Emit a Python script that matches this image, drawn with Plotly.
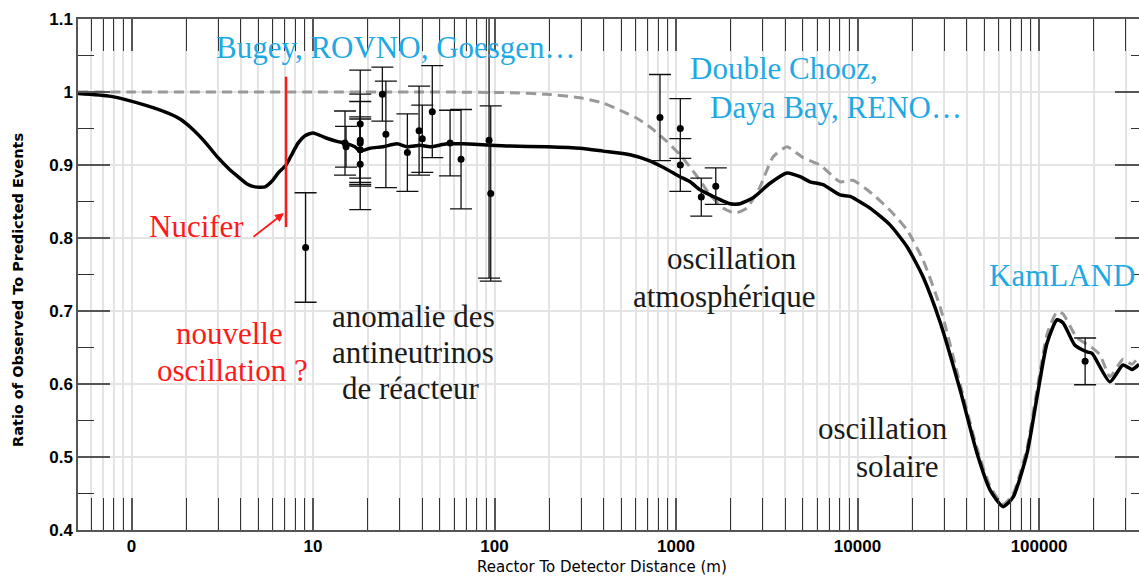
import math
import plotly.graph_objects as go

# ---------------- data ----------------
# 3 active + 1 sterile neutrino prediction (solid black)
sterile_dist = [0.507, 0.771, 1.187, 1.589, 1.850, 2.127, 2.508, 2.997, 3.401, 3.862, 4.329, 4.79,
                5.44, 5.945, 6.42, 7.10, 7.661, 8.27, 9.035, 10.0, 11.8, 13.7, 15.0, 17.0, 18.2,
                20.6, 24.3, 29.0, 33.0, 38.9, 44.2, 54.7, 67.0, 121.6, 194.5, 296, 396, 558,
                692, 848, 1052, 1195, 1356, 1539, 1984, 2253, 2656, 3295, 4090, 4823, 5475,
                6455, 8010, 9095, 11720, 15100, 18750, 22950, 28500, 36750, 45550, 53700,
                63400, 71950, 85900, 97500, 110700, 125700, 135600, 157800, 183700, 196000,
                245900, 290200, 325300, 355600]
sterile_ratio = [0.998, 0.994, 0.982, 0.971, 0.963, 0.951, 0.933, 0.910, 0.896, 0.884, 0.874, 0.870,
                 0.870, 0.878, 0.889, 0.900, 0.915, 0.930, 0.940, 0.944, 0.937, 0.932, 0.930, 0.925, 0.919,
                 0.923, 0.925, 0.929, 0.925, 0.927, 0.925, 0.929, 0.929, 0.926, 0.925, 0.923, 0.919, 0.914,
                 0.907, 0.897, 0.884, 0.877, 0.866, 0.859, 0.847, 0.847, 0.855, 0.875, 0.889, 0.884, 0.877,
                 0.873, 0.859, 0.857, 0.841, 0.818, 0.788, 0.747, 0.685, 0.592, 0.505, 0.455,
                 0.432, 0.445, 0.505, 0.582, 0.656, 0.688, 0.684, 0.653, 0.644, 0.642,
                 0.603, 0.626, 0.620, 0.627]

# standard 3-flavour prediction (grey dashed)
std_dist = [0.507, 1.0, 10.0, 50.0, 121.6, 194.5, 296, 396, 491, 609, 719, 892, 1052, 1195, 1356,
            1539, 1814, 2114, 2461, 2902, 3422, 4090, 5012, 6214, 8010, 9440, 11720, 15100,
            18750, 22950, 28500, 36750, 45550, 53700, 63400, 71950, 85900, 97500, 110700,
            125700, 135600, 161900, 191000, 216700, 245900, 290200, 325300, 355600]
std_ratio = [1.0, 1.0, 1.0, 1.0, 0.999, 0.997, 0.992, 0.985, 0.975, 0.964, 0.952, 0.932, 0.914, 0.897, 0.879,
             0.859, 0.841, 0.834, 0.841, 0.870, 0.911, 0.925, 0.910, 0.900, 0.877, 0.879, 0.863, 0.838,
             0.811, 0.770, 0.706, 0.600, 0.512, 0.460, 0.435, 0.449, 0.512, 0.592, 0.668,
             0.699, 0.696, 0.663, 0.652, 0.640, 0.610, 0.634, 0.627, 0.638]

# reactor experiments: distance (m), observed/predicted, error
exp_dist = [9.1, 15.0, 15.2, 18.2, 18.2, 18.2, 18.2, 18.2, 24.1, 25.2, 33.1, 38.4, 40.0,
            45.4, 56.9, 65.4, 93.3, 95.3, 816, 1056, 1056, 1378, 1656, 179500]
exp_ratio = [0.787, 0.930, 0.925, 0.956, 0.934, 0.930, 0.921, 0.901, 0.997, 0.942, 0.917, 0.947, 0.936,
             0.973, 0.930, 0.908, 0.934, 0.861, 0.965, 0.950, 0.900, 0.856, 0.871, 0.631]
exp_err = [0.075, 0.044, 0.028, 0.074, 0.063, 0.057, 0.045, 0.062, 0.037, 0.073, 0.053, 0.061, 0.046,
           0.063, 0.045, 0.068, 0.189, 0.120, 0.059, 0.041, 0.036, 0.026, 0.025, 0.032]

# Nucifer position
nucifer_dist = [7.1, 7.1]
nucifer_span = [0.815, 1.021]

# axes
x_range = [0.507, 355600]
y_range = [0.4, 1.1]
x_major = [1, 10, 100, 1000, 10000, 100000]
x_major_text = ["0", "10", "100", "1000", "10000", "100000"]
y_major = [0.4, 0.5, 0.6, 0.7, 0.8, 0.9, 1.0, 1.1]
y_major_text = ["0.4", "0.5", "0.6", "0.7", "0.8", "0.9", "1", "1.1"]
x_minor = [m * 10 ** e for e in range(-1, 6) for m in range(2, 10) if 0.5 < m * 10 ** e < 4e5]

# ---------------- figure ----------------
W, H = 1139, 576
PL, PR, PT, PB = 78, 0, 19, 46


def pxx(px):
    return (px - PL) / (W - PL - PR)


def pxy(py):
    return (H - PB - py) / (H - PT - PB)


fig = go.Figure()
fig.add_trace(go.Scatter(x=std_dist, y=std_ratio, mode="lines",
                         line=dict(color="#999999", width=3, dash="10px,6px", shape="spline", smoothing=0.5),
                         hoverinfo="skip", showlegend=False))
fig.add_trace(go.Scatter(x=sterile_dist, y=sterile_ratio, mode="lines",
                         line=dict(color="black", width=3.5, shape="spline", smoothing=0.6),
                         hoverinfo="skip", showlegend=False))
fig.add_trace(go.Scatter(x=exp_dist, y=exp_ratio, mode="markers",
                         marker=dict(color="black", size=7),
                         error_y=dict(type="data", array=exp_err, color="#111111", thickness=1.3, width=11),
                         showlegend=False))
fig.add_trace(go.Scatter(x=nucifer_dist, y=nucifer_span, mode="lines",
                         line=dict(color="#ff1a1a", width=2.5), hoverinfo="skip", showlegend=False))
# carrier for the right-hand tick axis
fig.add_trace(go.Scatter(x=[None], y=[None], yaxis="y2", mode="markers", showlegend=False, hoverinfo="skip"))

tickfont = dict(family="Liberation Sans", size=17, color="black", weight="bold")
fig.update_layout(
    width=W, height=H,
    margin=dict(l=PL, r=PR, t=PT, b=PB, pad=0),
    paper_bgcolor="white", plot_bgcolor="white",
    xaxis=dict(type="log", range=[math.log10(x_range[0]), math.log10(x_range[1])],
               tickmode="array", tickvals=x_major, ticktext=x_major_text, tickfont=tickfont,
               ticks="inside", ticklen=32, tickwidth=1.5, tickcolor="#555555",
               showline=True, linecolor="#555555", linewidth=1.5, mirror="allticks",
               showgrid=True, gridcolor="#e4e4e4", gridwidth=1.5, zeroline=False,
               minor=dict(tickmode="array", tickvals=x_minor, ticks="inside", ticklen=16,
                          tickwidth=1.2, tickcolor="#333333", showgrid=True,
                          gridcolor="#e4e4e4", gridwidth=1.5)),
    yaxis=dict(range=y_range, tickmode="array", tickvals=y_major, ticktext=y_major_text,
               tickfont=tickfont, ticks="inside", ticklen=32, tickwidth=1.5, tickcolor="#555555",
               showline=True, linecolor="#555555", linewidth=1.5,
               showgrid=True, gridcolor="#e4e4e4", gridwidth=1.5, zeroline=False,
               minor=dict(dtick=0.05, ticks="inside", ticklen=16, tickwidth=1.2,
                          tickcolor="#333333", showgrid=False)),
    yaxis2=dict(range=y_range, overlaying="y", side="right", tickmode="array", tickvals=y_major,
                showticklabels=False, ticks="inside", ticklen=24, tickwidth=1.5, tickcolor="#555555",
                showline=False, showgrid=False, zeroline=False,
                minor=dict(dtick=0.05, ticks="inside", ticklen=8, tickwidth=1.2,
                           tickcolor="#333333", showgrid=False)),
)

serif = "Liberation Serif"
cyan = "#1fa9e4"
red = "#ff1a1a"
dark = "#1a1a1a"
labels = [
    ("Bugey, ROVNO, Goesgen…", 396, 47, cyan, "center"),
    ("Double Chooz,", 688, 68, cyan, "left"),
    ("Daya Bay, RENO…", 708, 107, cyan, "left"),
    ("KamLAND", 1062, 275, cyan, "center"),
    ("Nucifer", 196, 226, red, "center"),
    ("nouvelle", 229, 333, red, "center"),
    ("oscillation ?", 232, 370, red, "center"),
    ("anomalie des", 413, 316, dark, "center"),
    ("antineutrinos", 413, 352, dark, "center"),
    ("de réacteur", 410, 388, dark, "center"),
    ("oscillation", 732, 258, dark, "center"),
    ("atmosphérique", 724, 296, dark, "center"),
    ("oscillation", 883, 428, dark, "center"),
    ("solaire", 897, 466, dark, "center"),
]
for text, cx, cy, col, anc in labels:
    fig.add_annotation(text=text, xref="paper", yref="paper", x=pxx(cx), y=pxy(cy),
                       xanchor=anc, yanchor="middle", showarrow=False,
                       font=dict(family=serif, size=31, color=col))

# Nucifer arrow
fig.add_annotation(text="", xref="paper", yref="paper", x=pxx(284), y=pxy(213),
                   ax=-32, ay=25, axref="pixel", ayref="pixel", showarrow=True,
                   arrowhead=2, arrowsize=1, arrowwidth=1.8, arrowcolor=red, standoff=0)

# axis titles
fig.add_annotation(text="Ratio of Observed To Predicted Events", xref="paper", yref="paper",
                   x=pxx(18), y=pxy(290), textangle=-90, showarrow=False,
                   xanchor="center", yanchor="middle",
                   font=dict(family="DejaVu Sans", size=14.5, color="black", weight="bold"))
fig.add_annotation(text="Reactor To Detector Distance (m)", xref="paper", yref="paper",
                   x=pxx(602), y=pxy(567), showarrow=False, xanchor="center", yanchor="middle",
                   font=dict(family="DejaVu Sans", size=15, color="black"))

fig.write_html("out.html", config={"displayModeBar": False},
               post_script="document.body.style.margin='0';document.body.style.overflow='hidden';")
